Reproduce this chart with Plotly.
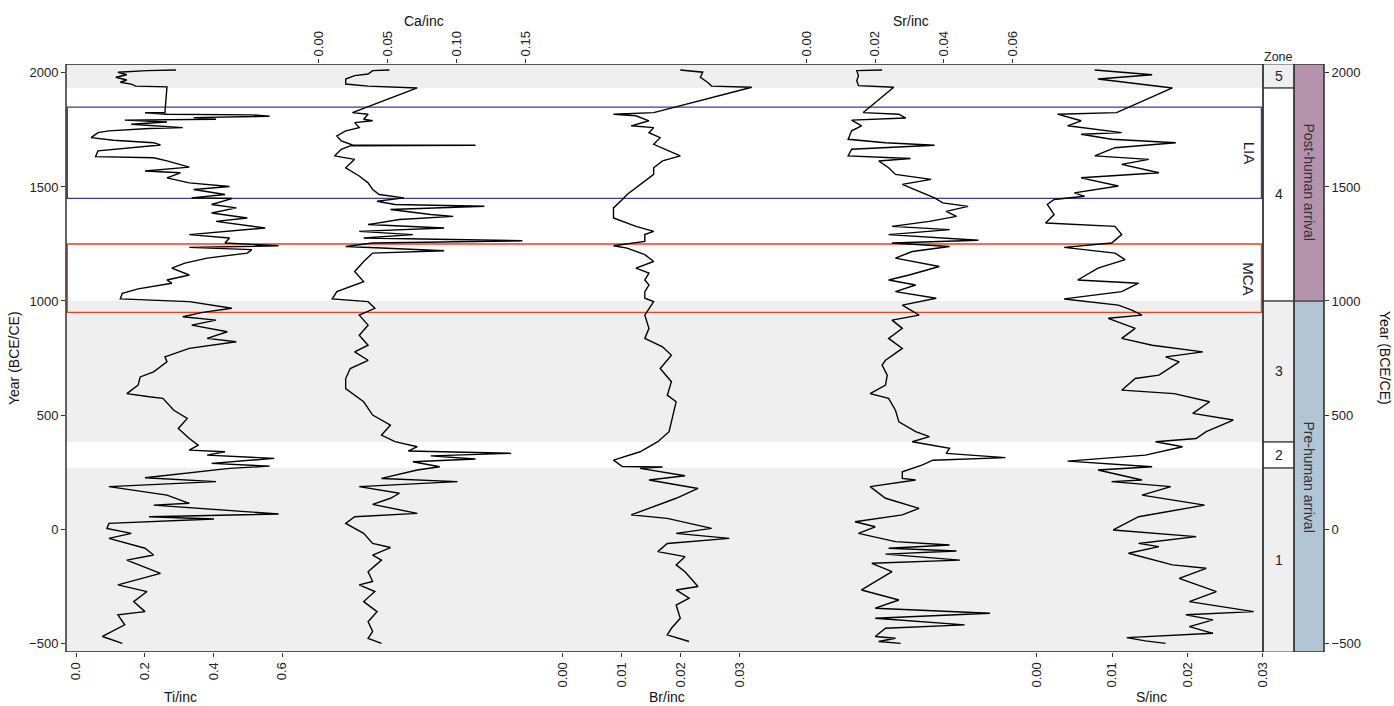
import plotly.graph_objects as go

# ---------------- data ----------------
ti_year = [2013,2010,2003,1992,1981,1969,1959,1951,1942,1939,1826,1825,1819,1816,1810,1804,1797,1793,1785,1775,
           1760,1756,1746,1738,1716,1705,1694,1684,1658,1633,1628,1614,1587,1570,1562,1540,1518,1502,1489,1467,
           1452,1449,1423,1408,1386,1364,1349,1320,1291,1276,1254,1242,1235,1225,1210,1188,1166,1144,1114,1092,
           1078,1053,1034,1009,997,968,950,931,916,894,865,836,821,792,755,733,689,667,631,594,
           580,573,521,485,441,397,368,346,339,324,310,288,276,266,225,208,186,149,113,105,
           66,54,44,25,3,-19,-41,-84,-114,-136,-194,-245,-274,-318,-362,-376,-420,-471,-501]
ti_val = [0.291,0.207,0.122,0.148,0.116,0.148,0.129,0.161,0.174,0.265,0.259,0.201,0.265,0.512,0.564,0.343,0.408,0.142,0.265,0.161,
          0.311,0.213,0.096,0.064,0.044,0.109,0.226,0.246,0.064,0.057,0.226,0.265,0.330,0.201,0.304,0.265,0.330,0.447,0.343,0.434,
          0.337,0.454,0.395,0.467,0.395,0.499,0.408,0.551,0.330,0.447,0.434,0.590,0.330,0.512,0.499,0.382,0.317,0.279,0.330,0.265,
          0.279,0.181,0.135,0.129,0.330,0.454,0.369,0.311,0.408,0.337,0.441,0.382,0.467,0.330,0.259,0.265,0.226,0.187,0.181,0.148,
          0.213,0.253,0.285,0.324,0.298,0.330,0.356,0.330,0.434,0.382,0.577,0.395,0.564,0.447,0.201,0.408,0.096,0.265,0.330,0.226,
          0.590,0.213,0.402,0.096,0.090,0.161,0.096,0.201,0.226,0.148,0.246,0.122,0.207,0.168,0.201,0.122,0.142,0.077,0.135]

ca_year = [2013,2010,1995,1988,1973,1951,1942,1934,1826,1819,1797,1790,1782,1760,1746,1724,1702,1684,1683,1680,
           1665,1636,1621,1584,1548,1518,1489,1467,1452,1437,1423,1415,1401,1379,1371,1357,1335,1320,1305,1291,
           1276,1264,1254,1239,1232,1220,1210,1173,1129,1085,1041,1009,997,968,938,894,850,806,777,740,
           704,660,616,558,500,456,412,383,361,342,332,321,307,295,273,259,222,208,186,157,
           135,108,69,54,25,-19,-63,-81,-114,-136,-187,-230,-245,-274,-318,-362,-406,-449,-479,-501]
ca_val = [0.0515,0.0393,0.0360,0.0263,0.0198,0.0198,0.0360,0.0716,0.0247,0.0360,0.0328,0.0393,0.0263,0.0296,0.0198,0.0134,0.0166,0.0247,0.1137,0.0231,
          0.0166,0.0117,0.0263,0.0198,0.0296,0.0360,0.0393,0.0441,0.0619,0.0425,0.0554,0.1201,0.0522,0.0813,0.0975,0.0587,0.0360,0.0910,0.0296,0.0684,
          0.0328,0.1476,0.0393,0.0198,0.0457,0.0910,0.0393,0.0328,0.0263,0.0328,0.0134,0.0101,0.0360,0.0409,0.0296,0.0360,0.0296,0.0360,0.0263,0.0360,
          0.0231,0.0198,0.0198,0.0328,0.0393,0.0522,0.0457,0.0554,0.0716,0.0651,0.1395,0.0813,0.1137,0.0684,0.0878,0.0716,0.0457,0.1007,0.0296,0.0587,
          0.0522,0.0393,0.0716,0.0263,0.0198,0.0328,0.0393,0.0522,0.0393,0.0457,0.0360,0.0393,0.0296,0.0409,0.0328,0.0425,0.0360,0.0393,0.0360,0.0457]

br_year = [2013,2003,1981,1959,1942,1937,1826,1819,1812,1790,1768,1760,1738,1716,1687,1636,1614,1584,1555,1526,
           1496,1467,1445,1408,1364,1327,1305,1291,1261,1242,1232,1203,1173,1144,1122,1092,1070,1041,1012,997,
           938,880,836,799,762,704,646,587,558,514,470,427,383,339,302,274,272,266,234,215,
           178,135,62,47,3,-19,-41,-63,-99,-121,-157,-187,-252,-267,-303,-333,-391,-435,-464,-493]
br_val = [0.0199,0.0237,0.0233,0.0245,0.0252,0.0320,0.0154,0.0086,0.0124,0.0146,0.0116,0.0154,0.0146,0.0165,0.0154,0.0199,0.0169,0.0154,0.0154,0.0139,
          0.0124,0.0109,0.0101,0.0086,0.0086,0.0124,0.0154,0.0139,0.0139,0.0086,0.0109,0.0139,0.0154,0.0124,0.0146,0.0139,0.0146,0.0139,0.0139,0.0154,
          0.0139,0.0146,0.0139,0.0169,0.0184,0.0165,0.0184,0.0177,0.0192,0.0188,0.0184,0.0180,0.0161,0.0131,0.0086,0.0101,0.0169,0.0131,0.0207,0.0146,
          0.0229,0.0192,0.0116,0.0177,0.0252,0.0192,0.0282,0.0177,0.0161,0.0207,0.0192,0.0207,0.0229,0.0192,0.0214,0.0192,0.0199,0.0184,0.0177,0.0214]

sr_year = [2013,2010,1988,1966,1944,1937,1826,1819,1802,1793,1768,1746,1709,1694,1683,1665,1636,1625,1614,1584,
           1555,1533,1511,1481,1452,1430,1415,1393,1371,1349,1327,1313,1291,1266,1254,1239,1217,1188,1151,1114,
           1092,1070,1041,1012,982,938,916,880,836,792,762,740,719,675,631,594,573,521,470,427,
           405,383,354,332,313,302,281,251,222,215,186,135,91,62,32,10,-19,-55,-70,-84,
           -96,-110,-136,-150,-187,-267,-311,-347,-369,-391,-420,-435,-471,-479,-493,-501]
sr_val = [0.0220,0.0146,0.0151,0.0146,0.0151,0.0254,0.0165,0.0269,0.0289,0.0131,0.0160,0.0131,0.0121,0.0230,0.0373,0.0131,0.0121,0.0303,0.0210,0.0239,
          0.0259,0.0363,0.0279,0.0328,0.0373,0.0397,0.0471,0.0407,0.0437,0.0358,0.0249,0.0417,0.0239,0.0501,0.0249,0.0417,0.0308,0.0259,0.0387,0.0299,
          0.0239,0.0318,0.0259,0.0378,0.0279,0.0328,0.0249,0.0279,0.0239,0.0279,0.0249,0.0230,0.0220,0.0235,0.0230,0.0185,0.0239,0.0259,0.0269,0.0318,
          0.0358,0.0308,0.0417,0.0407,0.0580,0.0368,0.0338,0.0279,0.0279,0.0318,0.0185,0.0230,0.0328,0.0279,0.0141,0.0200,0.0151,0.0259,0.0417,0.0239,
          0.0437,0.0230,0.0447,0.0190,0.0249,0.0160,0.0269,0.0200,0.0535,0.0200,0.0461,0.0230,0.0200,0.0259,0.0210,0.0274]

s_year = [2013,1992,1973,1934,1826,1819,1790,1768,1738,1731,1709,1694,1672,1636,1621,1599,1562,1540,1504,1474,
          1459,1445,1423,1379,1342,1327,1291,1254,1235,1210,1181,1144,1092,1078,1041,1009,982,960,938,924,
          880,836,806,792,777,755,733,675,660,609,594,558,507,478,427,397,383,361,324,298,
          273,259,215,208,186,149,105,54,-4,-33,-63,-77,-106,-157,-172,-216,-274,-318,-362,-376,
          -398,-428,-457,-476,-490,-501]
s_val = [0.00767,0.01530,0.00811,0.01799,0.01058,0.00273,0.00587,0.00407,0.01126,0.00587,0.00991,0.01844,0.01036,0.00767,0.01485,0.01126,0.01620,0.00587,0.01081,0.00497,
         0.00632,0.00228,0.00138,0.00228,0.00115,0.01036,0.01126,0.00991,0.00362,0.01036,0.01171,0.00811,0.00542,0.01350,0.01126,0.00362,0.01081,0.01260,0.01395,0.00946,
         0.01305,0.01126,0.01530,0.01889,0.02203,0.01709,0.01889,0.01620,0.01305,0.01126,0.01822,0.02293,0.02069,0.02607,0.02248,0.02114,0.01575,0.01934,0.01440,0.00407,
         0.01530,0.00811,0.01395,0.00991,0.01777,0.01395,0.02226,0.01350,0.01013,0.02114,0.01350,0.01620,0.01215,0.01799,0.02248,0.01889,0.02383,0.02024,0.02877,0.01979,
         0.02338,0.02024,0.02338,0.01193,0.01440,0.01709]

zone_names = ["1", "2", "3", "4", "5"]
zone_bounds = [-539, 268, 382, 1000, 1934, 2039]
zone_shaded = [True, False, True, False, True]
periods = [("LIA", 1450, 1850, "#3b3b9b"), ("MCA", 950, 1250, "#e4461f")]
arrival_names = ["Pre-human arrival", "Post-human arrival"]
arrival_bounds = [-539, 1000, 2039]
arrival_colors = ["#b1c5d5", "#b593ad"]

year_ticks = [-500, 0, 500, 1000, 1500, 2000]
year_labels = ["\u2212500", "0", "500", "1000", "1500", "2000"]

# ---------------- layout geometry ----------------
W, H = 1394, 706
ML, MR, MT, MB = 66, 70, 64, 54
PW = W - ML - MR
PH = H - MT - MB
main_r = (1263 - ML) / PW
zone_r = (1294 - ML) / PW
YR = [zone_bounds[0], zone_bounds[-1]]
FONT = "Liberation Sans, Arial, sans-serif"

fig = go.Figure()
series = [(ti_year, ti_val, "x"), (ca_year, ca_val, "x2"), (br_year, br_val, "x3"),
          (sr_year, sr_val, "x4"), (s_year, s_val, "x5")]
for yy, vv, xa in series:
    fig.add_trace(go.Scatter(x=vv, y=yy, xaxis=xa, yaxis="y", mode="lines",
                             line=dict(color="black", width=1.4), hoverinfo="skip", showlegend=False))
fig.add_trace(go.Scatter(x=[None], y=[None], xaxis="x", yaxis="y2", mode="lines",
                         hoverinfo="skip", showlegend=False))

tickfont = dict(family=FONT, size=13, color="#222")
def xax(rng, vals, txt, side, overlay=True):
    d = dict(domain=[0, main_r], range=rng, tickvals=vals, ticktext=txt, side=side, anchor="y",
             showgrid=False, zeroline=False, showline=False, ticks="outside", ticklen=4, tickwidth=1,
             tickcolor="#333", tickangle=-90, tickfont=tickfont, automargin=False, fixedrange=True)
    if overlay:
        d["overlaying"] = "x"
    return d

def yax(side, **kw):
    d = dict(range=YR, domain=[0, 1], tickvals=year_ticks, ticktext=year_labels, side=side,
             showgrid=False, zeroline=False, showline=False, ticks="outside", ticklen=4, tickwidth=1,
             tickcolor="#333", tickfont=tickfont, automargin=False, fixedrange=True)
    d.update(kw)
    return d

fig.update_layout(
    width=W, height=H, margin=dict(l=ML, r=MR, t=MT, b=MB),
    paper_bgcolor="white", plot_bgcolor="white", showlegend=False,
    xaxis=xax([-0.02913, 3.4573], [0, 0.2, 0.4, 0.6], ["0.0", "0.2", "0.4", "0.6"], "bottom", overlay=False),
    xaxis2=xax([-0.18247, 0.68323], [0, 0.05, 0.10, 0.15], ["0.00", "0.05", "0.10", "0.15"], "top"),
    xaxis3=xax([-0.08404, 0.11850], [0, 0.01, 0.02, 0.03], ["0.00", "0.01", "0.02", "0.03"], "bottom"),
    xaxis4=xax([-0.21616, 0.13316], [0, 0.02, 0.04, 0.06], ["0.00", "0.02", "0.04", "0.06"], "top"),
    xaxis5=xax([-0.12894, 0.03002], [0, 0.01, 0.02, 0.03], ["0.00", "0.01", "0.02", "0.03"], "bottom"),
    yaxis=yax("left", anchor="x"),
    yaxis2=yax("right", overlaying="y", anchor="free", position=1.0),
)

shapes = []
for i, sh in enumerate(zone_shaded):
    if sh:
        shapes.append(dict(type="rect", xref="paper", yref="y", x0=0, x1=zone_r,
                           y0=zone_bounds[i], y1=zone_bounds[i + 1], fillcolor="#efefef",
                           line=dict(width=0), layer="below"))
for name, y0, y1, col in periods:
    shapes.append(dict(type="rect", xref="paper", yref="y", x0=0.001, x1=main_r - 0.0012,
                       y0=y0, y1=y1, line=dict(color=col, width=1.4), layer="below"))
for i in range(len(zone_names)):
    shapes.append(dict(type="rect", xref="paper", yref="y", x0=main_r, x1=zone_r,
                       y0=zone_bounds[i], y1=zone_bounds[i + 1], line=dict(color="#444", width=1)))
for i in range(len(arrival_names)):
    shapes.append(dict(type="rect", xref="paper", yref="y", x0=zone_r, x1=1,
                       y0=arrival_bounds[i], y1=arrival_bounds[i + 1], fillcolor=arrival_colors[i],
                       line=dict(color="#333", width=1), layer="below"))
shapes.append(dict(type="rect", xref="paper", yref="y", x0=zone_r, x1=1, y0=YR[0], y1=YR[1],
                   line=dict(color="#333", width=1.2)))
shapes.append(dict(type="rect", xref="paper", yref="y", x0=0, x1=main_r, y0=YR[0], y1=YR[1],
                   line=dict(color="#222", width=1.4)))
fig.update_layout(shapes=shapes)

def px(xpix):
    return (xpix - ML) / PW
def py(ypix):
    return (H - MB - ypix) / PH

ann = []
tfont = dict(family=FONT, size=14, color="#111")
def note(**kw):
    d = dict(showarrow=False, xanchor="center", yanchor="middle")
    d.update(kw)
    ann.append(d)

for txt, xp, yp in [("Ca/inc", 424, 21), ("Sr/inc", 911, 21), ("Ti/inc", 180, 697),
                    ("Br/inc", 667, 697), ("S/inc", 1151, 697)]:
    note(text=txt, xref="paper", yref="paper", x=px(xp), y=py(yp), font=tfont)
note(text="Year (BCE/CE)", xref="paper", yref="paper", x=px(14), y=0.5, textangle=-90, font=tfont)
note(text="Year (BCE/CE)", xref="paper", yref="paper", x=px(1385), y=0.5, textangle=90, font=tfont)
note(text="Zone", xref="paper", yref="paper", x=(main_r + zone_r) / 2, y=py(57),
     font=dict(family=FONT, size=12.5, color="#222"))
for i, z in enumerate(zone_names):
    note(text=z, xref="paper", yref="y", x=(main_r + zone_r) / 2,
         y=(zone_bounds[i] + zone_bounds[i + 1]) / 2, font=dict(family=FONT, size=14, color="#222"))
for name, y0, y1, col in periods:
    note(text=name, xref="paper", yref="y", x=px(1249), y=(y0 + y1) / 2, textangle=90,
         font=dict(family=FONT, size=15, color="#222"))
for i, name in enumerate(arrival_names):
    note(text=name, xref="paper", yref="y", x=(zone_r + 1) / 2,
         y=(arrival_bounds[i] + arrival_bounds[i + 1]) / 2, textangle=90,
         font=dict(family=FONT, size=14, color="#333"))
fig.update_layout(annotations=ann)

fig.write_html("out.html")
